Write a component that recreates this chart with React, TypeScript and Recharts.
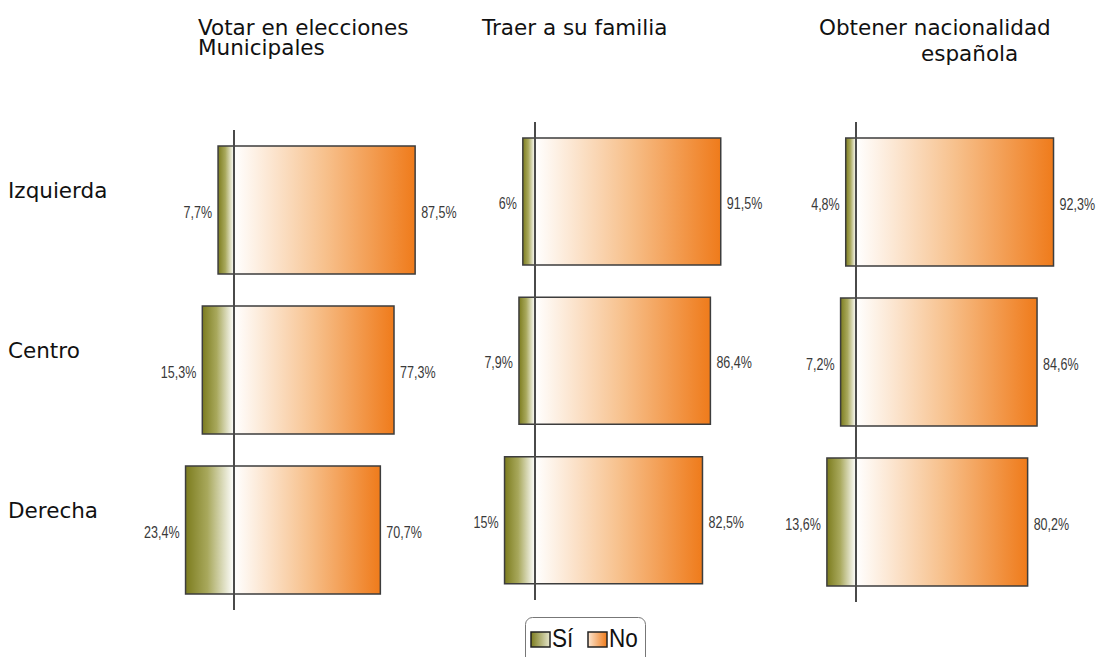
import React from 'react';
import { BarChart, Bar, XAxis, YAxis, ReferenceLine, LabelList } from 'recharts';

const categories = ['Izquierda', 'Centro', 'Derecha'];
const votarSi = [7.7, 15.3, 23.4];
const votarNo = [87.5, 77.3, 70.7];
const familiaSi = [6, 7.9, 15];
const familiaNo = [91.5, 86.4, 82.5];
const nacionalidadSi = [4.8, 7.2, 13.6];
const nacionalidadNo = [92.3, 84.6, 80.2];
const legendLabels = ['Sí', 'No'];

const fmt = (v: number) => String(Math.abs(v)).replace('.', ',') + '%';

const build = (si: number[], no: number[]) =>
  categories.map((c, i) => ({ cat: c, si: -si[i], no: no[i] }));

const LABEL_FONT = '"Liberation Sans", Arial, sans-serif';
const TITLE_FONT = '"DejaVu Sans", Verdana, sans-serif';
const NARROW = 0.76;

type PanelCfg = {
  id: string;
  data: any[];
  left: number;
  width: number;
  mLeft: number;
  mRight: number;
  yWidth: number;
  showY: boolean;
  top: number;
  bottom: number;
  zero: number;
  k: number;
  barSize: number;
};

const H = 657;

const getBox = (props: any) => {
  const vb = props.viewBox || props;
  return {
    x: vb.x ?? props.x,
    y: vb.y ?? props.y,
    w: vb.width ?? props.width,
    h: vb.height ?? props.height,
  };
};

const NarrowText = ({ x, y, anchor, children }: any) => (
  <text
    transform={`translate(${x} ${y}) scale(${NARROW} 1)`}
    x={0}
    y={0}
    textAnchor={anchor}
    fontFamily={LABEL_FONT}
    fontSize={16.5}
    fill="#3a3a3a"
  >
    {children}
  </text>
);

const SiLabel = (props: any) => {
  const b = getBox(props);
  const leftEdge = Math.min(b.x, b.x + b.w);
  return <NarrowText x={leftEdge - 6} y={b.y + b.h / 2 + 7.5} anchor="end">{fmt(props.value)}</NarrowText>;
};

const NoLabel = (props: any) => {
  const b = getBox(props);
  const rightEdge = Math.max(b.x, b.x + b.w);
  return <NarrowText x={rightEdge + 6} y={b.y + b.h / 2 + 7.5} anchor="start">{fmt(props.value)}</NarrowText>;
};

const CatTick = (props: any) => {
  const { y, payload } = props;
  return (
    <text x={8} y={y} dy={-12} fontFamily={TITLE_FONT} fontSize={21.5} fill="#111" textAnchor="start">
      {payload.value}
    </text>
  );
};

const Panel = ({ cfg }: { cfg: PanelCfg }) => {
  const L = cfg.mLeft + (cfg.showY ? cfg.yWidth : 0);
  const R = cfg.width - cfg.mRight;
  const plotL = cfg.left + L;
  const plotR = cfg.left + R;
  const domain: [number, number] = [(plotL - cfg.zero) / cfg.k, (plotR - cfg.zero) / cfg.k];
  return (
    <div style={{ position: 'absolute', left: cfg.left, top: 0 }}>
      <BarChart
        width={cfg.width}
        height={H}
        data={cfg.data}
        layout="vertical"
        stackOffset="sign"
        margin={{ top: cfg.top, bottom: H - cfg.bottom, left: cfg.mLeft, right: cfg.mRight }}
      >
        <defs>
          <linearGradient id={`si-${cfg.id}`} x1="0" y1="0" x2="1" y2="0">
            <stop offset="0%" stopColor="#7c7c1e" />
            <stop offset="45%" stopColor="#a8a85c" />
            <stop offset="100%" stopColor="#ffffff" />
          </linearGradient>
          <linearGradient id={`no-${cfg.id}`} x1="0" y1="0" x2="1" y2="0">
            <stop offset="0%" stopColor="#ffffff" />
            <stop offset="50%" stopColor="#f7c18d" />
            <stop offset="100%" stopColor="#ef7b1b" />
          </linearGradient>
        </defs>
        <XAxis type="number" hide domain={domain} allowDataOverflow />
        <YAxis
          type="category"
          dataKey="cat"
          hide={!cfg.showY}
          width={cfg.yWidth}
          axisLine={false}
          tickLine={false}
          tick={<CatTick />}
        />
        <Bar dataKey="si" stackId="a" barSize={cfg.barSize} fill={`url(#si-${cfg.id})`}
          stroke="#3d3d3d" strokeWidth={1.5} isAnimationActive={false}>
          <LabelList dataKey="si" content={<SiLabel />} />
        </Bar>
        <Bar dataKey="no" stackId="a" barSize={cfg.barSize} fill={`url(#no-${cfg.id})`}
          stroke="#3d3d3d" strokeWidth={1.5} isAnimationActive={false}>
          <LabelList dataKey="no" content={<NoLabel />} />
        </Bar>
        <ReferenceLine x={0} stroke="#4a4a4a" strokeWidth={2} />
      </BarChart>
    </div>
  );
};

const panels: PanelCfg[] = [
  { id: 'p1', data: build(votarSi, votarNo), left: 0, width: 480, mLeft: 0, mRight: 10, yWidth: 150, showY: true, top: 130, bottom: 610, zero: 234, k: 2.07, barSize: 128 },
  { id: 'p2', data: build(familiaSi, familiaNo), left: 440, width: 340, mLeft: 50, mRight: 30, yWidth: 0, showY: false, top: 122, bottom: 600, zero: 535, k: 2.03, barSize: 127 },
  { id: 'p3', data: build(nacionalidadSi, nacionalidadNo), left: 760, width: 340, mLeft: 40, mRight: 10, yWidth: 0, showY: false, top: 122, bottom: 602, zero: 856, k: 2.14, barSize: 128 },
];

const titleStyle: React.CSSProperties = {
  position: 'absolute',
  fontFamily: TITLE_FONT,
  fontSize: 21.5,
  lineHeight: '18px',
  color: '#111',
  whiteSpace: 'nowrap',
};

const Legend = () => (
  <svg width={124} height={45} style={{ position: 'absolute', left: 524, top: 616 }}>
    <defs>
      <linearGradient id="lg-si" x1="0" y1="0" x2="1" y2="0">
        <stop offset="0%" stopColor="#7c7c1e" />
        <stop offset="100%" stopColor="#e6e6cc" />
      </linearGradient>
      <linearGradient id="lg-no" x1="0" y1="0" x2="1" y2="0">
        <stop offset="0%" stopColor="#fde6d0" />
        <stop offset="100%" stopColor="#ef7b1b" />
      </linearGradient>
    </defs>
    <rect x={1.5} y={1.5} width={120} height={60} rx={7} ry={7} fill="#fff" stroke="#777" strokeWidth={1} />
    <rect x={7} y={16} width={19} height={15} fill="url(#lg-si)" stroke="#222" strokeWidth={1.5} />
    <text transform={`translate(28 31) scale(0.85 1)`} fontFamily={LABEL_FONT} fontSize={26.5} fill="#111">{legendLabels[0]}</text>
    <rect x={64} y={16} width={19} height={15} fill="url(#lg-no)" stroke="#222" strokeWidth={1.5} />
    <text transform={`translate(85 31) scale(0.85 1)`} fontFamily={LABEL_FONT} fontSize={26.5} fill="#111">{legendLabels[1]}</text>
  </svg>
);

export default function App() {
  return (
    <div style={{ position: 'absolute', left: 0, top: 0, width: 1100, height: 657, background: '#fff', overflow: 'hidden' }}>
      <div style={{ ...titleStyle, lineHeight: '19.5px', left: 198, top: 18.3 }}>Votar en elecciones<br />Municipales</div>
      <div style={{ ...titleStyle, left: 482, top: 19 }}>Traer a su familia</div>
      <div style={{ ...titleStyle, left: 819, top: 19 }}>Obtener nacionalidad</div>
      <div style={{ ...titleStyle, left: 921, top: 45.3 }}>española</div>
      {panels.map((p) => (
        <Panel key={p.id} cfg={p} />
      ))}
      <Legend />
    </div>
  );
}
